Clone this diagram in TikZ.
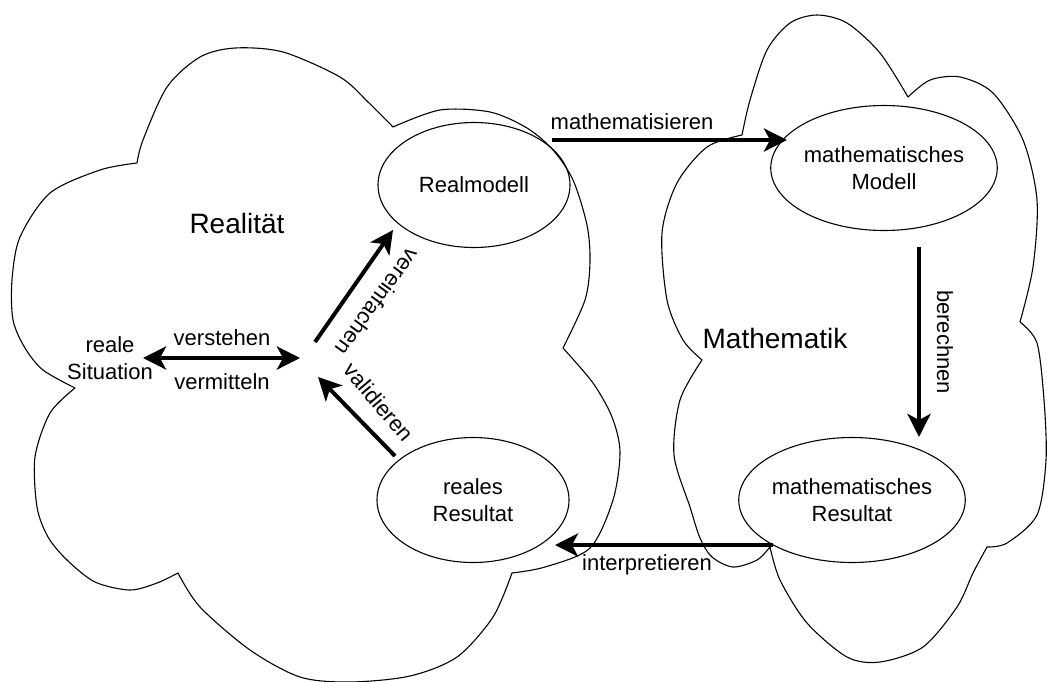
\documentclass[tikz,border=0pt]{standalone}
\usepackage{fontspec}
\setmainfont{Liberation Sans}
\usetikzlibrary{arrows.meta,shapes.geometric}
\begin{document}
\begin{tikzpicture}[x=1pt,y=-1pt,
  cloudline/.style={line width=1.1pt, line join=round},
  oval/.style={ellipse, draw, line width=1.1pt, minimum width=192pt, minimum height=125pt, inner sep=0pt, align=center, font=\fontsize{22}{27}\selectfont},
  lbl/.style={font=\fontsize{22}{27}\selectfont, inner sep=0pt, align=center},
  big/.style={font=\fontsize{28}{32}\selectfont, inner sep=0pt},
  flow/.style={line width=4pt, -{Stealth[length=23pt,width=23pt,inset=6pt]}},
  flowboth/.style={line width=4pt, {Stealth[length=23pt,width=23pt,inset=6pt]}-{Stealth[length=23pt,width=23pt,inset=6pt]}},
]
\useasboundingbox (0,0) rectangle (1047,681);

% Realitaet cloud
\draw[cloudline]
  plot[smooth] coordinates {(137,163) (143,140) (167,87) (200,57) (235,48) (283,52) (340,77) (368,102) (393,127)}
  -- plot[smooth] coordinates {(393,127) (440,110) (490,112) (527,128) (553,150) (573,180) (587,225) (590,262) (585,300) (563,348)}
  -- plot[smooth] coordinates {(563,348) (593,383) (612,417) (620,452) (613,500) (590,548) (545,567) (512,573)}
  -- plot[smooth] coordinates {(512,573) (493,617) (457,657) (410,676) (350,682) (300,677) (250,650) (200,607) (178,573)}
  -- plot[smooth] coordinates {(178,573) (157,583) (130,590) (95,582) (67,560) (48,537) (37,507) (35,457) (50,413) (75,388)}
  -- plot[smooth] coordinates {(75,388) (43,370) (25,348) (13,320) (12,280) (20,237) (50,193) (100,170) (137,163)}
  -- cycle;

% Mathematik cloud
\draw[cloudline]
  plot[smooth] coordinates {(742,135) (750,100) (767,50) (790,23) (817,15) (847,23) (880,53) (908,97)}
  -- plot[smooth] coordinates {(908,97) (930,80) (960,77) (993,93) (1023,140) (1037,200) (1033,267) (1020,322)}
  -- plot[smooth] coordinates {(1020,322) (1037,343) (1044,400) (1046,460) (1037,515) (1007,543) (987,547)}
  -- plot[smooth] coordinates {(987,547) (973,573) (957,607) (923,647) (880,662) (847,657) (807,623) (780,580) (770,547)}
  -- plot[smooth] coordinates {(770,547) (757,560) (733,567) (712,557) (700,538) (690,507) (674,455) (680,400) (702,360)}
  -- plot[smooth] coordinates {(702,360) (683,340) (667,300) (662,233) (677,183) (707,147) (742,135)}
  -- cycle;

% ovals
\node[oval] (rm) at (474,185) {Realmodell};
\node[oval] (mm) at (884,168) {mathematisches\\Modell};
\node[oval] (mr) at (852,500) {mathematisches\\Resultat};
\node[oval] (rr) at (473,500) {reales\\Resultat};

% titles and texts
\node[big] (real) at (237,223) {Realität};
\node[big] (math) at (775,338) {Mathematik};
\node[lbl] (rs) at (110,358) {reale\\Situation};

% arrow end points
\coordinate (ma) at (552,140); \coordinate (mb) at (787,140);
\coordinate (ba) at (919,247); \coordinate (bb) at (919,437);
\coordinate (ia) at (773,545); \coordinate (ib) at (555,545);
\coordinate (va) at (315,342); \coordinate (vb) at (393,230);
\coordinate (da) at (395,456); \coordinate (db) at (318,377);
\coordinate (sa) at (143,358); \coordinate (sb) at (300,358);

\draw[flow] (ma) -- (mb);
\draw[flow] (ba) -- (bb);
\draw[flow] (ia) -- (ib);
\draw[flow] (va) -- (vb);
\draw[flow] (da) -- (db);
\draw[flowboth] (sa) -- (sb);

% arrow labels
\node[lbl] (lmath) at (632,122) {mathematisieren};
\node[lbl] (linterp) at (647,565) {interpretieren};
\node[lbl, rotate=-90] (lber) at (945,342) {berechnen};
\node[lbl, rotate=-126] (lver) at (378,302) {vereinfachen};
\node[lbl, rotate=-50] (lval) at (379,402) {validieren};
\node[lbl] (lverst) at (222,338) {verstehen};
\node[lbl] (lverm) at (222,382) {vermitteln};
\end{tikzpicture}
\end{document}
